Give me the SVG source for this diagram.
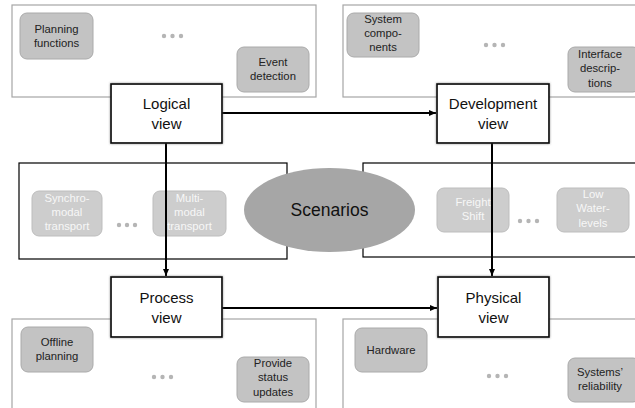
<svg xmlns="http://www.w3.org/2000/svg" width="635" height="408" viewBox="0 0 635 408">
<defs>
<style>
.cont{fill:#fff;stroke:#a6a6a6;stroke-width:1.2}
.contb{fill:#fff;stroke:#000;stroke-width:1.2}
.item{fill:#c3c3c3;stroke:#aaaaaa;stroke-width:1}
.itemL{fill:#cdcdcd;stroke:#bdbdbd;stroke-width:1}
.t{font-family:"Liberation Sans",Arial,sans-serif;font-size:11.3px;fill:#222;text-anchor:middle}
.tw{font-family:"Liberation Sans",Arial,sans-serif;font-size:11.3px;fill:#f7f7f7;text-anchor:middle}
.view{fill:#fff;stroke:#000;stroke-width:1.6;filter:url(#sh)}
.vt{font-family:"Liberation Sans",Arial,sans-serif;font-size:15px;fill:#111;text-anchor:middle}
.dot{fill:#b5b5b5}
.con{stroke:#000;stroke-width:2;fill:none;marker-end:url(#arr)}
</style>
<filter id="sh" x="-10%" y="-10%" width="120%" height="120%">
<feDropShadow dx="0" dy="0" stdDeviation="1.3" flood-color="#555" flood-opacity="0.7"/>
</filter>
<marker id="arr" markerWidth="8" markerHeight="8" refX="7" refY="4" orient="auto" markerUnits="userSpaceOnUse">
<path d="M0,1 L7,4 L0,7 Z" fill="#000"/>
</marker>
</defs>

<g id="logical-container">
<rect class="cont" x="12" y="5" width="304" height="92"/>
<rect class="item" x="20" y="13" width="73" height="46" rx="7"/>
<text class="t" x="56.5" y="33">Planning</text>
<text class="t" x="56.5" y="47">functions</text>
<rect class="item" x="237" y="47" width="72" height="45" rx="7"/>
<text class="t" x="273" y="66">Event</text>
<text class="t" x="273" y="80">detection</text>
<circle class="dot" cx="164" cy="36" r="2.2"/><circle class="dot" cx="172.5" cy="36" r="2.2"/><circle class="dot" cx="181" cy="36" r="2.2"/>
</g>

<g id="development-container">
<rect class="cont" x="343" y="5" width="300" height="92"/>
<rect class="item" x="347" y="13" width="72" height="44" rx="7"/>
<text class="t" x="383" y="23">System</text>
<text class="t" x="383" y="37">compo-</text>
<text class="t" x="383" y="51">nents</text>
<rect class="item" x="568" y="47" width="72" height="45" rx="7"/>
<text class="t" x="600" y="58">Interface</text>
<text class="t" x="600" y="72">descrip-</text>
<text class="t" x="600" y="87">tions</text>
<circle class="dot" cx="486" cy="45" r="2.2"/><circle class="dot" cx="494.5" cy="45" r="2.2"/><circle class="dot" cx="503" cy="45" r="2.2"/>
</g>

<g id="process-container">
<rect class="contb" x="19" y="163" width="268" height="96"/>
<rect class="itemL" x="32" y="191" width="70" height="45" rx="7"/>
<text class="tw" x="67" y="202">Synchro-</text>
<text class="tw" x="67" y="216">modal</text>
<text class="tw" x="67" y="230">transport</text>
<rect class="itemL" x="153" y="191" width="73" height="45" rx="7"/>
<text class="tw" x="189.5" y="202">Multi-</text>
<text class="tw" x="189.5" y="216">modal</text>
<text class="tw" x="189.5" y="230">transport</text>
<circle class="dot" cx="119" cy="225" r="2.2"/><circle class="dot" cx="127" cy="225" r="2.2"/><circle class="dot" cx="135" cy="225" r="2.2"/>
</g>

<g id="physical-container">
<rect class="contb" x="363" y="163" width="290" height="94"/>
<rect class="itemL" x="437" y="188" width="72" height="44" rx="7"/>
<text class="tw" x="473" y="206">Freight</text>
<text class="tw" x="473" y="220">Shift</text>
<rect class="itemL" x="557" y="188" width="72" height="44" rx="7"/>
<text class="tw" x="593" y="198">Low</text>
<text class="tw" x="593" y="212">Water-</text>
<text class="tw" x="593" y="227">levels</text>
<circle class="dot" cx="520" cy="221" r="2.2"/><circle class="dot" cx="528.5" cy="221" r="2.2"/><circle class="dot" cx="537" cy="221" r="2.2"/>
</g>

<g id="logical-bottom-container">
<rect class="cont" x="12" y="319" width="304" height="100"/>
<rect class="item" x="21" y="327" width="72" height="45" rx="7"/>
<text class="t" x="57" y="346">Offline</text>
<text class="t" x="57" y="360">planning</text>
<rect class="item" x="237" y="357" width="72" height="45" rx="7"/>
<text class="t" x="273" y="367">Provide</text>
<text class="t" x="273" y="381">status</text>
<text class="t" x="273" y="396">updates</text>
<circle class="dot" cx="154" cy="377" r="2.2"/><circle class="dot" cx="162.5" cy="377" r="2.2"/><circle class="dot" cx="171" cy="377" r="2.2"/>
</g>

<g id="physical-bottom-container">
<rect class="cont" x="343" y="319" width="300" height="100"/>
<rect class="item" x="355" y="328" width="72" height="44" rx="7"/>
<text class="t" x="391" y="354">Hardware</text>
<rect class="item" x="568" y="358" width="72" height="44" rx="7"/>
<text class="t" x="600" y="376">Systems’</text>
<text class="t" x="600" y="390">reliability</text>
<circle class="dot" cx="489" cy="376" r="2.2"/><circle class="dot" cx="497.5" cy="376" r="2.2"/><circle class="dot" cx="506" cy="376" r="2.2"/>
</g>

<g id="scenarios">
<ellipse cx="329.5" cy="210" rx="85.5" ry="42" fill="#a6a6a6"/>
<text class="vt" x="329.5" y="216" style="font-size:17.5px">Scenarios</text>
</g>

<g id="connectors">
<line class="con" x1="222" y1="113" x2="436" y2="113"/>
<line class="con" x1="166" y1="143" x2="166" y2="276"/>
<line class="con" x1="492" y1="143" x2="492" y2="276"/>
<line class="con" x1="222" y1="308" x2="437" y2="308"/>
</g>

<g id="logical-view">
<rect class="view" x="111" y="84" width="111" height="59"/>
<text class="vt" x="166.5" y="109">Logical</text>
<text class="vt" x="166.5" y="129">view</text>
</g>
<g id="development-view">
<rect class="view" x="437" y="84" width="112" height="59"/>
<text class="vt" x="493" y="109">Development</text>
<text class="vt" x="493" y="129">view</text>
</g>
<g id="process-view">
<rect class="view" x="111" y="277" width="111" height="60"/>
<text class="vt" x="166.5" y="303">Process</text>
<text class="vt" x="166.5" y="323">view</text>
</g>
<g id="physical-view">
<rect class="view" x="438" y="277" width="111" height="60"/>
<text class="vt" x="493.5" y="303">Physical</text>
<text class="vt" x="493.5" y="323">view</text>
</g>
</svg>
